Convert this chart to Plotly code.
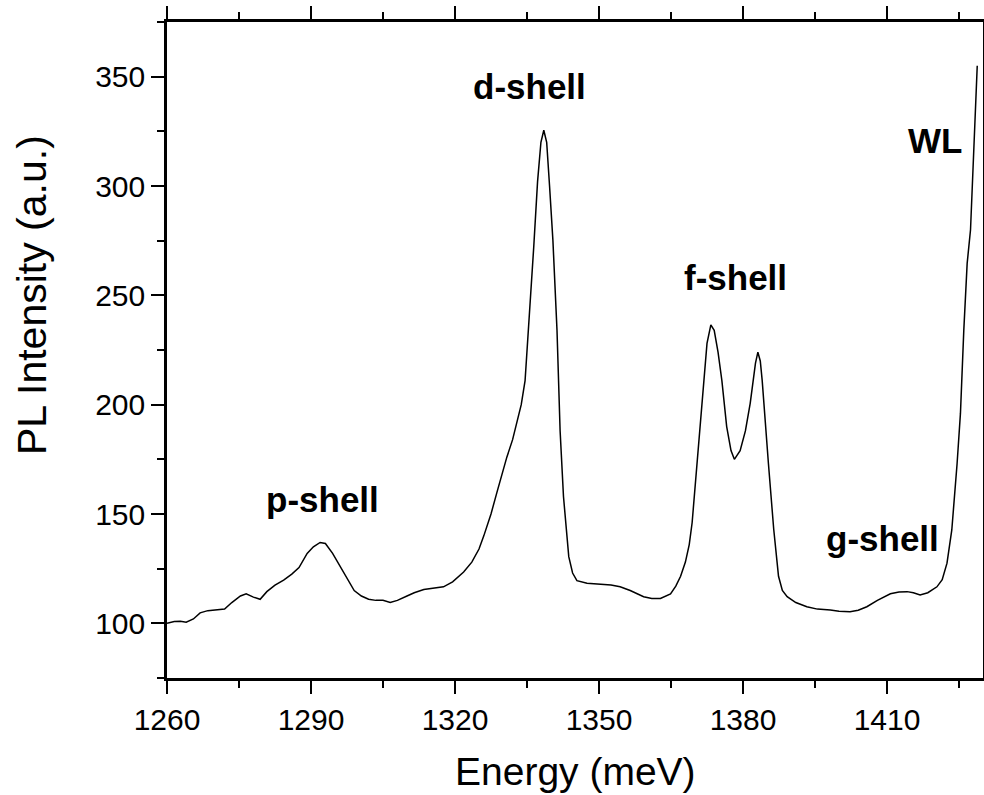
import plotly.graph_objects as go

# Photoluminescence spectrum
energy_meV = [
    1260.0, 1261.5, 1262.8, 1264.0, 1265.5, 1266.9, 1268.5, 1270.4, 1272.0, 1273.5,
    1275.3, 1276.5, 1278.0, 1279.4, 1280.8, 1282.5, 1284.3, 1286.0, 1287.5, 1289.2,
    1290.5, 1291.9, 1293.0, 1294.5, 1296.1, 1297.5, 1299.0, 1300.5, 1302.0, 1303.5,
    1305.0, 1306.5, 1308.0, 1310.0, 1311.5, 1313.5, 1315.5, 1317.6, 1319.5, 1321.8,
    1323.5, 1325.0, 1326.0, 1327.5, 1328.75, 1330.0, 1330.8, 1332.0, 1332.9, 1333.8,
    1334.6, 1335.5, 1336.4, 1337.2, 1337.9, 1338.5, 1339.1, 1339.7, 1340.4, 1341.25,
    1341.9, 1342.6, 1343.7, 1344.5, 1345.4, 1347.5, 1349.0, 1351.0, 1352.5, 1354.4,
    1356.5, 1359.3, 1361.0, 1362.8, 1364.9, 1366.0, 1367.0, 1368.0, 1368.8, 1369.4,
    1370.4, 1371.2, 1371.8, 1372.5, 1373.3, 1374.0, 1374.8, 1375.6, 1376.6, 1377.5,
    1378.2, 1379.4, 1380.5, 1381.5, 1382.6, 1383.1, 1383.6, 1384.0, 1385.3, 1386.4,
    1387.4, 1388.2, 1389.2, 1391.0, 1393.3, 1395.5, 1398.2, 1400.0, 1402.3, 1404.0,
    1405.8, 1408.0, 1410.7, 1412.5, 1414.2, 1415.5, 1416.9, 1418.5, 1420.4, 1421.5,
    1422.5, 1423.5, 1424.6, 1425.3, 1426.0, 1426.7, 1427.4, 1428.0, 1428.8,
]
pl_intensity = [
    100.0, 100.8, 101.0, 100.5, 102.0, 104.8, 105.8, 106.0, 106.5, 109.5,
    112.5, 113.5, 112.0, 111.0, 114.5, 117.5, 119.8, 122.5, 125.5, 132.0,
    135.0, 137.0, 136.5, 132.0, 126.0, 120.5, 115.0, 112.5, 111.0, 110.5,
    110.5, 109.5, 110.5, 112.5, 114.0, 115.5, 116.0, 116.7, 119.0, 123.5,
    128.0, 134.0, 140.0, 150.0, 160.0, 170.0, 176.0, 184.0, 191.5, 200.0,
    211.0, 240.0, 272.0, 302.0, 320.0, 325.5, 320.0, 300.0, 275.0, 234.0,
    188.0, 158.0, 130.5, 123.0, 119.5, 118.3, 118.0, 117.5, 117.5, 116.7,
    115.0, 112.2, 111.4, 111.4, 113.5, 117.0, 121.5, 128.0, 136.0, 146.0,
    173.0, 195.0, 211.0, 228.0, 236.5, 234.0, 224.0, 211.0, 190.0, 179.0,
    175.0, 179.0, 188.0, 200.6, 219.0, 224.0, 220.0, 211.0, 173.0, 143.0,
    121.5, 115.0, 112.2, 109.5, 107.6, 106.5, 106.1, 105.5, 105.3, 106.0,
    107.6, 110.5, 113.5, 114.3, 114.5, 114.0, 113.0, 114.0, 116.7, 120.0,
    127.5, 142.7, 173.0, 196.0, 234.0, 264.6, 280.0, 310.0, 355.0,
]

label_text = ["p-shell", "d-shell", "f-shell", "g-shell", "WL"]
label_x = [1292.3, 1335.6, 1378.5, 1409.0, 1420.1]
label_y = [156.8, 345.7, 258.2, 138.6, 321.0]

x_range = [1260, 1430]
y_range = [75, 375]

FONT = "Liberation Sans, Arial, Helvetica, sans-serif"

fig = go.Figure()
fig.add_trace(go.Scatter(
    x=energy_meV, y=pl_intensity, mode="lines",
    line=dict(color="black", width=1.5), showlegend=False,
    hoverinfo="skip",
))

for t, lx, ly in zip(label_text, label_x, label_y):
    fig.add_annotation(
        x=lx, y=ly, xref="x", yref="y", text="<b>%s</b>" % t,
        showarrow=False, xanchor="center", yanchor="middle",
        font=dict(family=FONT, size=35, color="black"),
    )

# axis titles
fig.add_annotation(
    x=0.5, y=0, xref="paper", yref="paper", text="Energy (meV)",
    showarrow=False, xanchor="center", yanchor="middle", yshift=-93,
    font=dict(family=FONT, size=39, color="black"),
)
fig.add_annotation(
    x=0, y=(678 - 295) / 656, xref="paper", yref="paper", text="PL Intensity (a.u.)",
    showarrow=False, xanchor="center", yanchor="middle", xshift=-135,
    textangle=-90,
    font=dict(family=FONT, size=41, color="black"),
)

axis_common = dict(
    showgrid=False, zeroline=False, showline=True, linecolor="black", linewidth=2.5,
    ticks="outside", tickcolor="black", tickwidth=2, ticklen=13,
    mirror="ticks", automargin=False,
    tickfont=dict(family=FONT, size=30, color="black"),
)

fig.update_xaxes(
    range=x_range, tick0=1260, dtick=30,
    minor=dict(dtick=15, tick0=1260, ticks="outside", ticklen=7, tickwidth=2, tickcolor="black"),
    **axis_common,
)
fig.update_yaxes(
    range=y_range, tick0=100, dtick=50,
    minor=dict(dtick=25, tick0=75, ticks="outside", ticklen=7, tickwidth=2, tickcolor="black"),
    **axis_common,
)

fig.update_layout(
    width=984, height=795, autosize=False,
    margin=dict(l=167, r=1, t=22, b=117, autoexpand=False),
    plot_bgcolor="white", paper_bgcolor="white",
    font=dict(family=FONT, color="black"),
)

fig.write_html("out.html")
